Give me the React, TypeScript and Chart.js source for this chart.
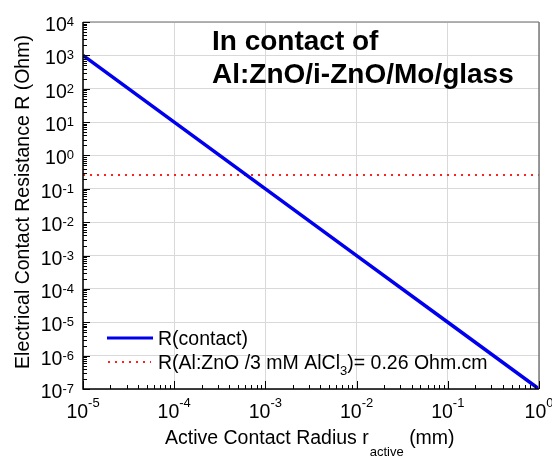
import React, { useEffect, useRef } from "react";
import { Chart, registerables } from "chart.js";

Chart.register(...registerables);

// ---- data ----
const radiusMm = [1e-5, 1e-4, 1e-3, 1e-2, 1e-1, 1];
const contactResistance = [1e3, 1e1, 1e-1, 1e-3, 1e-5, 1e-7];
const sheetLimitRadius = [1e-5, 1];
const sheetLimitValue = [0.26, 0.26];
const xExponents = [-5, -4, -3, -2, -1, 0];
const yExponents = [-7, -6, -5, -4, -3, -2, -1, 0, 1, 2, 3, 4];
const titleLines = ["In contact of", "Al:ZnO/i-ZnO/Mo/glass"];
const legendContact = "R(contact)";
const legendSheetParts = ["R(Al:ZnO /3 mM AlCl", "3", ")= 0.26 Ohm.cm"];
const xTitleParts = ["Active Contact Radius r", "active", " (mm)"];
const yTitle = "Electrical Contact Resistance R (Ohm)";

const FONT = '"Liberation Sans", Arial, sans-serif';
const BLUE = "#0000ee";
const RED = "#ff2020";

const decadeTicks = (exps: number[]) => exps.map((e) => ({ value: Math.pow(10, e) }));

const overlay = {
  id: "overlay",
  afterDraw(chart: any) {
    const ctx = chart.ctx as CanvasRenderingContext2D;
    const { left, right, top, bottom } = chart.chartArea;
    const xs = chart.scales.x;
    const ys = chart.scales.y;
    ctx.save();

    // frame
    ctx.lineWidth = 1.5;
    ctx.strokeStyle = "#9a9a9a";
    ctx.beginPath();
    ctx.moveTo(left, top);
    ctx.lineTo(right, top);
    ctx.stroke();
    ctx.strokeStyle = "#7a7a7a";
    ctx.beginPath();
    ctx.moveTo(right, top);
    ctx.lineTo(right, bottom);
    ctx.stroke();
    ctx.strokeStyle = "#000";
    ctx.beginPath();
    ctx.moveTo(left, top);
    ctx.lineTo(left, bottom);
    ctx.lineTo(right, bottom);
    ctx.stroke();

    // tick marks (inward)
    ctx.lineWidth = 1;
    ctx.beginPath();
    yExponents.forEach((e) => {
      for (let k = 1; k <= 9; k++) {
        const v = k * Math.pow(10, e);
        if (v > ys.max * 1.0001) continue;
        const py = Math.round(ys.getPixelForValue(v)) + 0.5;
        const len = k === 1 ? 7 : 4;
        ctx.moveTo(left, py);
        ctx.lineTo(left + len, py);
      }
    });
    xExponents.forEach((e) => {
      for (let k = 1; k <= 9; k++) {
        const v = k * Math.pow(10, e);
        if (v > xs.max * 1.0001) continue;
        const px = Math.round(xs.getPixelForValue(v)) + 0.5;
        const len = k === 1 ? 8 : 4;
        ctx.moveTo(px, bottom);
        ctx.lineTo(px, bottom - len);
      }
    });
    ctx.stroke();

    ctx.fillStyle = "#000";
    ctx.textBaseline = "alphabetic";

    // y tick labels
    yExponents.forEach((e) => {
      const py = ys.getPixelForValue(Math.pow(10, e));
      ctx.font = `13px ${FONT}`;
      const supW = ctx.measureText(String(e)).width;
      ctx.textAlign = "right";
      ctx.fillText(String(e), 74, py + 4);
      ctx.font = `19.5px ${FONT}`;
      ctx.fillText("10", 74 - supW, py + 9);
    });

    // x tick labels
    xExponents.forEach((e) => {
      const px = xs.getPixelForValue(Math.pow(10, e));
      ctx.font = `19.5px ${FONT}`;
      const baseW = ctx.measureText("10").width;
      ctx.font = `13px ${FONT}`;
      const supW = ctx.measureText(String(e)).width;
      const x0 = px - (baseW + supW) / 2;
      ctx.textAlign = "left";
      ctx.font = `19.5px ${FONT}`;
      ctx.fillText("10", x0, 418);
      ctx.font = `13px ${FONT}`;
      ctx.fillText(String(e), x0 + baseW, 407);
    });

    // x title with subscript
    {
      ctx.textAlign = "left";
      let x = 165;
      ctx.font = `19.5px ${FONT}`;
      ctx.fillText(xTitleParts[0], x, 444);
      x += ctx.measureText(xTitleParts[0]).width + 1;
      ctx.font = `13px ${FONT}`;
      ctx.fillText(xTitleParts[1], x, 456);
      x += ctx.measureText(xTitleParts[1]).width;
      ctx.font = `19.5px ${FONT}`;
      ctx.fillText(xTitleParts[2], x, 444);
    }

    // y title rotated
    ctx.save();
    ctx.translate(29, 202);
    ctx.rotate(-Math.PI / 2);
    ctx.textAlign = "center";
    ctx.font = `19.5px ${FONT}`;
    ctx.fillText(yTitle, 0, 0);
    ctx.restore();

    // title
    ctx.textAlign = "left";
    ctx.font = `bold 28px ${FONT}`;
    ctx.fillText(titleLines[0], 212, 50);
    ctx.fillText(titleLines[1], 212, 83);

    // legend
    ctx.lineWidth = 3;
    ctx.strokeStyle = BLUE;
    ctx.beginPath();
    ctx.moveTo(107, 338);
    ctx.lineTo(153, 338);
    ctx.stroke();
    ctx.lineWidth = 2;
    ctx.strokeStyle = RED;
    ctx.setLineDash([2, 5]);
    ctx.beginPath();
    ctx.moveTo(108, 362);
    ctx.lineTo(151, 362);
    ctx.stroke();
    ctx.setLineDash([]);

    ctx.font = `19.5px ${FONT}`;
    ctx.fillText(legendContact, 158, 345);
    {
      let x = 158;
      ctx.font = `19.5px ${FONT}`;
      ctx.fillText(legendSheetParts[0], x, 369);
      x += ctx.measureText(legendSheetParts[0]).width;
      ctx.font = `13px ${FONT}`;
      ctx.fillText(legendSheetParts[1], x, 375);
      x += ctx.measureText(legendSheetParts[1]).width;
      ctx.font = `19.5px ${FONT}`;
      ctx.fillText(legendSheetParts[2], x, 369);
    }

    ctx.restore();
  },
};

export default function App() {
  const ref = useRef<HTMLCanvasElement>(null);
  useEffect(() => {
    if (!ref.current) return;
    const chart = new Chart(ref.current, {
      type: "scatter",
      data: {
        datasets: [
          {
            label: legendContact,
            data: radiusMm.map((x, i) => ({ x, y: contactResistance[i] })),
            showLine: true,
            borderColor: BLUE,
            borderWidth: 3.5,
            pointRadius: 0,
            tension: 0,
          },
          {
            label: legendSheetParts.join(""),
            data: sheetLimitRadius.map((x, i) => ({ x, y: sheetLimitValue[i] })),
            showLine: true,
            borderColor: RED,
            borderWidth: 2,
            borderDash: [2, 5],
            pointRadius: 0,
          },
        ],
      },
      options: {
        animation: false,
        responsive: false,
        maintainAspectRatio: false,
        layout: { padding: { left: 83, right: 13, top: 22, bottom: 71 } },
        plugins: { legend: { display: false }, tooltip: { enabled: false } },
        scales: {
          x: {
            type: "logarithmic",
            min: 1e-5,
            max: 1,
            afterBuildTicks: (s: any) => {
              s.ticks = decadeTicks(xExponents);
            },
            afterFit: (s: any) => {
              s.height = 0;
            },
            ticks: { display: false },
            grid: { color: "#d9d9d9", lineWidth: 1, drawTicks: false },
            border: { display: false },
          },
          y: {
            type: "logarithmic",
            min: 1e-7,
            max: 1e4,
            afterBuildTicks: (s: any) => {
              s.ticks = decadeTicks(yExponents);
            },
            afterFit: (s: any) => {
              s.width = 0;
            },
            ticks: { display: false },
            grid: { color: "#d9d9d9", lineWidth: 1, drawTicks: false },
            border: { display: false },
          },
        },
      },
      plugins: [overlay],
    });
    return () => chart.destroy();
  }, []);
  return (
    <div style={{ position: "fixed", left: 0, top: 0, width: 552, height: 460, background: "#fff" }}>
      <canvas ref={ref} width={552} height={460} style={{ display: "block" }} />
    </div>
  );
}
